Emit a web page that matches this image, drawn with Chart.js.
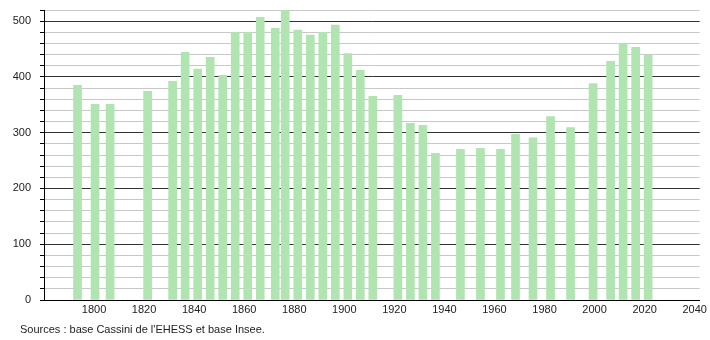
<!DOCTYPE html>
<html>
<head>
<meta charset="utf-8">
<script src="https://cdn.jsdelivr.net/npm/chart.js@4"></script>
<style>
  body { margin: 0; background: #fff; }
  #wrap { position: relative; width: 710px; height: 340px; }
  #src {
    position: absolute; left: 20px; top: 323px;
    font: 11px "Liberation Sans", Arial, sans-serif; color: #222;
  }
</style>
</head>
<body>
<div id="wrap">
  <canvas id="chart" width="710" height="340"></canvas>
  <div id="src">Sources : base Cassini de l'EHESS et base Insee.</div>
</div>
<script>
const years = [1793, 1800, 1806, 1821, 1831, 1836, 1841, 1846, 1851, 1856,
  1861, 1866, 1872, 1876, 1881, 1886, 1891, 1896, 1901, 1906, 1911, 1921,
  1926, 1931, 1936, 1946, 1954, 1962, 1968, 1975, 1982, 1990, 1999, 2006,
  2011, 2016, 2021];
const population = [385, 351, 351, 374, 392, 444, 414, 435, 403, 480,
  480, 507, 487, 520, 484, 475, 480, 493, 442, 412, 365, 367,
  317, 313, 263, 270, 272, 270, 297, 291, 329, 309, 388, 428,
  460, 453, 439];
const xTicks = [1800, 1820, 1840, 1860, 1880, 1900, 1920, 1940, 1960, 1980, 2000, 2020, 2040];
const yTicks = [];
for (let v = 0; v <= 520; v += 20) yTicks.push(v);

const font = { family: '"Liberation Sans", Arial, sans-serif', size: 11 };

new Chart(document.getElementById('chart'), {
  type: 'bar',
  data: {
    datasets: [{
      data: years.map((y, i) => ({ x: y + 0.4, y: population[i] })),
      backgroundColor: 'rgb(176,228,176)',
      borderWidth: 0,
      barThickness: 8,
    }],
  },
  options: {
    responsive: false,
    animation: false,
    layout: { padding: { top: 10, right: 10, left: 0, bottom: 0 } },
    plugins: { legend: { display: false }, tooltip: { enabled: false } },
    scales: {
      x: {
        type: 'linear',
        offset: false,
        min: 1780,
        max: 2042,
        afterBuildTicks: (scale) => { scale.ticks = xTicks.map((v) => ({ value: v })); },
        afterFit: (scale) => { scale.height = 40; },
        grid: { display: false, drawTicks: false },
        border: { display: true, color: '#000', width: 1 },
        ticks: {
          color: '#222',
          font,
          padding: 3,
          maxRotation: 0,
          autoSkip: false,
          callback: (v) => String(v),
        },
      },
      y: {
        min: 0,
        max: 520,
        afterBuildTicks: (scale) => { scale.ticks = yTicks.map((v) => ({ value: v })); },
        afterFit: (scale) => {
          scale.width = 44;
          // no extra room above the top tick
          scale.paddingTop = 0;
          scale.paddingBottom = 0;
        },
        border: { display: true, color: '#000', width: 1 },
        grid: {
          color: (c) => (c.tick.value % 100 === 0 ? '#333' : '#c8c8c8'),
          tickColor: '#000',
          tickLength: 4,
          lineWidth: 1,
        },
        ticks: {
          color: '#222',
          font,
          padding: 9,
          autoSkip: false,
          callback: (v) => (v % 100 === 0 && v <= 500 ? String(v) : ''),
        },
      },
    },
  },
});
</script>
</body>
</html>
